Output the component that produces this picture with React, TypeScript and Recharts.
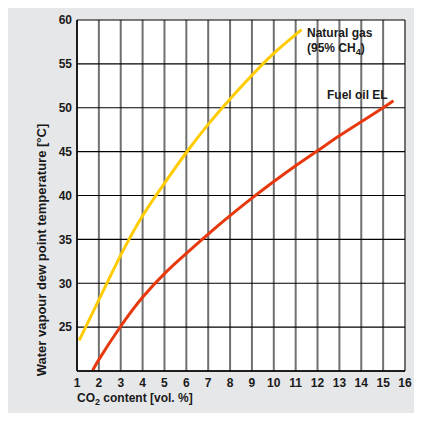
import { LineChart, Line, XAxis, YAxis, CartesianGrid, Label } from "recharts";

const xTicks = [1, 2, 3, 4, 5, 6, 7, 8, 9, 10, 11, 12, 13, 14, 15, 16];
const yTicks = [20, 25, 30, 35, 40, 45, 50, 55, 60];

// CO2 content [vol. %] vs. dew point [°C]
const naturalGasCo2 = [1.1, 2, 3, 4, 5, 6, 7, 8, 9, 10, 11.27];
const naturalGasDew = [23.5, 28.1, 33.2, 37.7, 41.4, 44.9, 48.1, 51, 53.7, 56.2, 58.9];
const fuelOilCo2 = [1.71, 2, 3, 4, 5, 6, 7, 8, 9, 10, 11, 12, 13, 14, 15, 15.47];
const fuelOilDew = [20, 21.3, 25.1, 28.4, 31.1, 33.4, 35.6, 37.7, 39.7, 41.6, 43.4, 45.1, 46.8, 48.4, 50, 50.8];

const naturalGas = naturalGasCo2.map((x, i) => ({ x, y: naturalGasDew[i] }));
const fuelOil = fuelOilCo2.map((x, i) => ({ x, y: fuelOilDew[i] }));

const font = "'Liberation Sans', Arial, sans-serif";
const ink = "#1a1a1a";
const tickStyle = { fill: ink, fontSize: 12, fontWeight: 700, fontFamily: font };

export default function App() {
  return (
    <div style={{ position: "relative", marginTop: -6, width: 413, height: 411, background: "#e6e7e9" }}>
      <LineChart width={413} height={411} data={naturalGas} margin={{ top: 18, right: 16, bottom: 0, left: 0 }}>
        <CartesianGrid horizontal={false} stroke="#707070" strokeWidth={2} fill="#fff" />
        <CartesianGrid vertical={false} stroke="#000" strokeWidth={1.2} />
        <XAxis
          type="number"
          dataKey="x"
          domain={[1, 16]}
          ticks={xTicks}
          interval={0}
          height={42}
          tickSize={0}
          tickMargin={7}
          tick={tickStyle}
          axisLine={{ stroke: "#000", strokeWidth: 1.5 }}
          tickLine={false}
          allowDataOverflow
        >
          <Label
            content={({ viewBox }: any) => (
              <text x={viewBox.x} y={viewBox.y + 31} fill={ink} fontSize={12} fontWeight={700} fontFamily={font}>
                CO<tspan fontSize={9} dy={3}>2</tspan>
                <tspan dy={-3}> content [vol. %]</tspan>
              </text>
            )}
          />
        </XAxis>
        <YAxis
          type="number"
          domain={[20, 60]}
          ticks={yTicks}
          interval={0}
          width={69}
          tickSize={0}
          tickMargin={5}
          tick={tickStyle}
          tickFormatter={(v: number) => (v === 20 ? "" : String(v))}
          axisLine={{ stroke: "#000", strokeWidth: 1.5 }}
          tickLine={false}
          allowDataOverflow
        >
          <Label
            content={() => (
              <text
                x={38}
                y={248}
                transform="rotate(-90 38 248)"
                textAnchor="middle"
                fill={ink}
                fontSize={13}
                fontWeight={700}
                fontFamily={font}
              >
                Water vapour dew point temperature [°C]
              </text>
            )}
          />
        </YAxis>
        <Line data={naturalGas} dataKey="y" type="natural" stroke="#ffcc00" strokeWidth={3} dot={false} isAnimationActive={false} />
        <Line data={fuelOil} dataKey="y" type="natural" stroke="#e8380d" strokeWidth={3} dot={false} isAnimationActive={false} />
      </LineChart>
      <svg width={413} height={411} style={{ position: "absolute", left: 0, top: 0, pointerEvents: "none" }}>
        <g fill={ink} fontSize={12} fontWeight={700} fontFamily={font}>
          <text x={299} y={35}>Natural gas</text>
          <text x={299} y={50}>
            (95% CH<tspan fontSize={9} dy={3}>4</tspan>
            <tspan dy={-3}>)</tspan>
          </text>
          <text x={319} y={97}>Fuel oil EL</text>
        </g>
      </svg>
    </div>
  );
}
